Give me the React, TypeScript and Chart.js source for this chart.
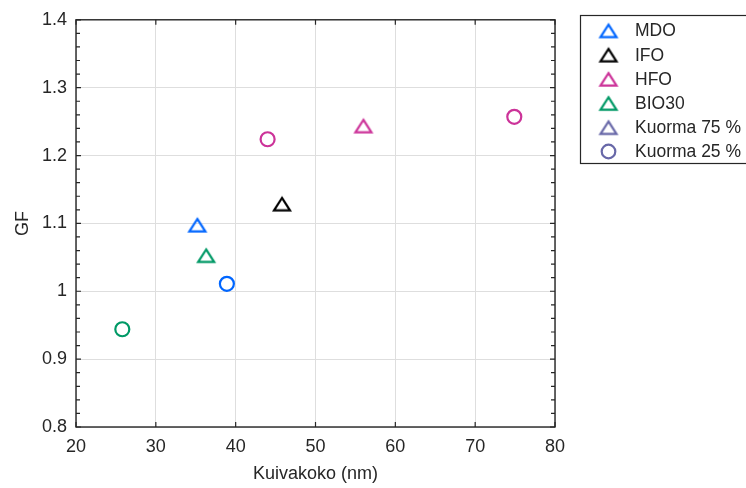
import React, { useEffect, useRef } from 'react';
import { Chart, registerables } from 'chart.js';

Chart.register(...registerables);

// ---- data ----
const fuelLabels = ['MDO', 'IFO', 'HFO', 'BIO30'];
const fuelColors = ['rgb(0,102,255)', 'rgb(0,0,0)', 'rgb(204,51,153)', 'rgb(0,153,102)'];
// Kuorma 75 % (triangles), one per fuel
const load75X = [35.2, 45.8, 56.0, 36.3];
const load75Y = [1.098, 1.129, 1.244, 1.053];
// Kuorma 25 % (circles)
const load25Fuel = ['MDO', 'HFO', 'HFO', 'BIO30'];
const load25X = [38.9, 44.0, 74.9, 25.8];
const load25Y = [1.011, 1.224, 1.257, 0.944];
const loadLabels = ['Kuorma 75 %', 'Kuorma 25 %'];
const loadLegendColor = 'rgb(104,104,168)';
const xTickValues = [20, 30, 40, 50, 60, 70, 80];
const yTickValues = [0.8, 0.9, 1.0, 1.1, 1.2, 1.3, 1.4];
const xTitle = 'Kuivakoko (nm)';
const yTitle = 'GF';

const FONT = "'Liberation Sans', Arial, Helvetica, sans-serif";
const TEXT = '#262626';

function triangleImage(color: string): HTMLCanvasElement {
  const c = document.createElement('canvas');
  c.width = 22;
  c.height = 20;
  const g = c.getContext('2d')!;
  g.strokeStyle = color;
  g.lineWidth = 2.2;
  g.lineJoin = 'miter';
  g.miterLimit = 3;
  g.beginPath();
  g.moveTo(11, 4.2);
  g.lineTo(19, 16.6);
  g.lineTo(3, 16.6);
  g.closePath();
  g.stroke();
  return c;
}

const framePlugin = {
  id: 'frame',
  afterDraw(chart: any) {
    const { ctx, chartArea } = chart;
    const { left, right, top, bottom } = chartArea;
    const xs = chart.scales.x;
    const ys = chart.scales.y;
    ctx.save();
    ctx.strokeStyle = TEXT;
    ctx.lineWidth = 1.4;
    ctx.strokeRect(left, top, right - left, bottom - top);
    ctx.lineWidth = 1.2;
    ctx.beginPath();
    xTickValues.forEach((v) => {
      const px = xs.getPixelForValue(v);
      ctx.moveTo(px, bottom);
      ctx.lineTo(px, bottom - 5);
      ctx.moveTo(px, top);
      ctx.lineTo(px, top + 5);
    });
    const yMin = yTickValues[0];
    const yMax = yTickValues[yTickValues.length - 1];
    const steps = Math.round((yMax - yMin) / 0.02);
    for (let i = 0; i <= steps; i++) {
      const v = yMin + i * 0.02;
      const py = ys.getPixelForValue(v);
      const len = i % 5 === 0 ? 5 : 4;
      ctx.moveTo(left, py);
      ctx.lineTo(left + len, py);
      ctx.moveTo(right, py);
      ctx.lineTo(right - len, py);
    }
    ctx.stroke();

    // legend
    const lx = 580;
    const ly = 15;
    ctx.lineWidth = 1.2;
    ctx.strokeStyle = TEXT;
    ctx.fillStyle = '#fff';
    ctx.fillRect(lx, ly, 200, 148);
    ctx.strokeRect(lx + 0.5, ly + 0.5, 200, 148);
    const labels = [...fuelLabels, ...loadLabels];
    ctx.font = `17.5px ${FONT}`;
    ctx.textBaseline = 'middle';
    ctx.textAlign = 'left';
    labels.forEach((lab, i) => {
      const cy = ly + 15.5 + i * 24.2;
      const mx = lx + 28.5;
      if (i < fuelLabels.length || i === fuelLabels.length) {
        const col = i < fuelLabels.length ? fuelColors[i] : loadLegendColor;
        const img = triangleImage(col);
        ctx.drawImage(img, mx - img.width / 2, cy - img.height / 2);
      } else {
        ctx.beginPath();
        ctx.strokeStyle = loadLegendColor;
        ctx.lineWidth = 2.2;
        ctx.arc(mx, cy, 6.8, 0, Math.PI * 2);
        ctx.stroke();
      }
      ctx.fillStyle = TEXT;
      ctx.fillText(lab, lx + 55, cy + 1);
    });
    ctx.restore();
  },
};

export default function App() {
  const ref = useRef<HTMLCanvasElement>(null);
  useEffect(() => {
    document.body.style.margin = '0';
    const datasets: any[] = [];
    fuelLabels.forEach((fuel, i) => {
      datasets.push({
        label: fuel,
        data: [{ x: load75X[i], y: load75Y[i] }],
        pointStyle: triangleImage(fuelColors[i]),
        pointRadius: 9,
        borderColor: fuelColors[i],
        backgroundColor: fuelColors[i],
      });
      const pts = load25Fuel
        .map((f, j) => (f === fuel ? { x: load25X[j], y: load25Y[j] } : null))
        .filter((p) => p !== null);
      if (pts.length) {
        datasets.push({
          label: fuel + ' 25',
          data: pts,
          pointStyle: 'circle',
          pointRadius: 7,
          pointBorderWidth: 2.2,
          borderColor: fuelColors[i],
          pointBorderColor: fuelColors[i],
          pointBackgroundColor: 'rgba(0,0,0,0)',
          backgroundColor: 'rgba(0,0,0,0)',
        });
      }
    });

    const fmt = (v: number) => String(Number(v.toFixed(2)));
    const chart = new Chart(ref.current!, {
      type: 'scatter',
      data: { datasets },
      plugins: [framePlugin],
      options: {
        animation: false,
        responsive: false,
        devicePixelRatio: 1,
        layout: { padding: { left: 0, top: 15, right: 191, bottom: 0 } },
        plugins: { legend: { display: false }, tooltip: { enabled: false } },
        scales: {
          x: {
            type: 'linear',
            min: 20,
            max: 80,
            afterFit: (s: any) => {
              s.height = 61;
            },
            afterBuildTicks: (s: any) => {
              s.ticks = xTickValues.map((v) => ({ value: v }));
            },
            ticks: {
              font: { family: FONT, size: 18 },
              color: TEXT,
              padding: 9,
              maxRotation: 0,
              callback: (v: any) => fmt(Number(v)),
            },
            grid: { color: '#dedede', lineWidth: 1, drawTicks: false },
            border: { display: false },
            title: {
              display: true,
              text: xTitle,
              font: { family: FONT, size: 18 },
              color: TEXT,
              padding: { top: 0, bottom: 3 },
            },
          },
          y: {
            type: 'linear',
            min: 0.8,
            max: 1.4,
            afterFit: (s: any) => {
              s.width = 76;
            },
            afterBuildTicks: (s: any) => {
              s.ticks = yTickValues.map((v) => ({ value: v }));
            },
            ticks: {
              font: { family: FONT, size: 18 },
              color: TEXT,
              padding: 9,
              callback: (v: any) => fmt(Number(v)),
            },
            grid: { color: '#dedede', lineWidth: 1, drawTicks: false },
            border: { display: false },
            title: {
              display: true,
              text: yTitle,
              font: { family: FONT, size: 18 },
              color: TEXT,
              padding: { top: 12, bottom: 0 },
            },
          },
        },
      },
    });
    return () => chart.destroy();
  }, []);
  return (
    <div style={{ width: 746, height: 488 }}>
      <canvas ref={ref} width={746} height={488} style={{ display: 'block' }} />
    </div>
  );
}
